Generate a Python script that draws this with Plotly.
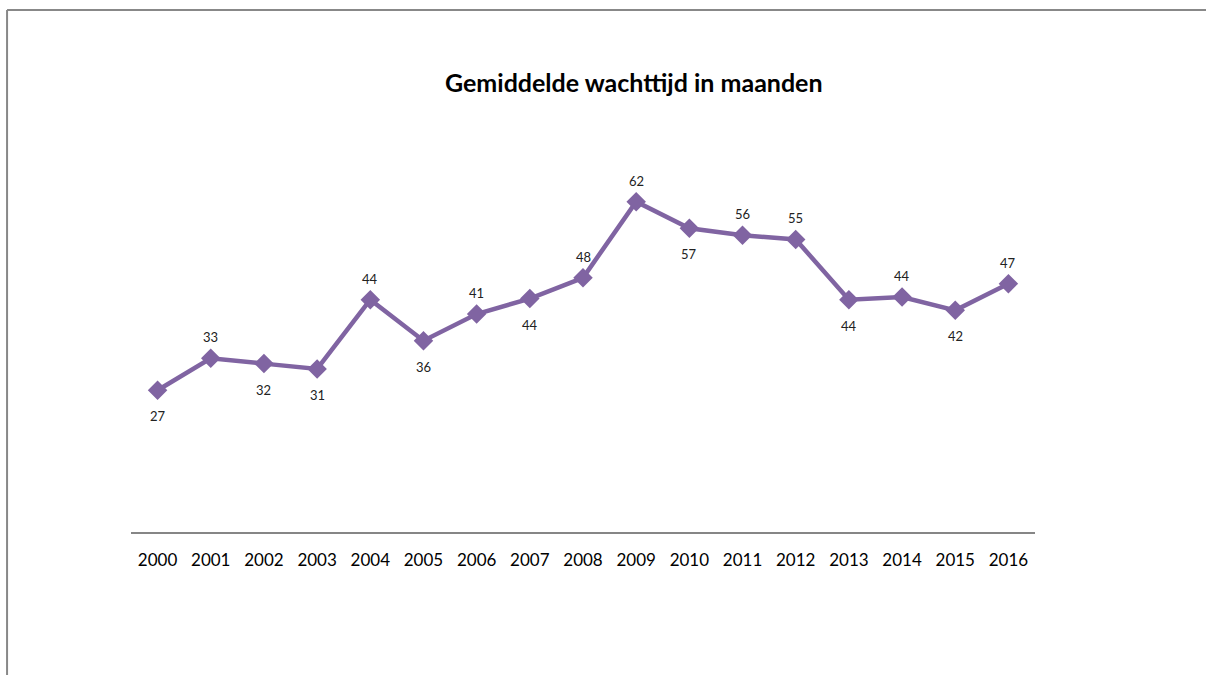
import plotly.graph_objects as go

years = [str(y) for y in range(2000, 2017)]
values = [26.6, 32.6, 31.6, 30.6, 43.6, 35.9, 40.9, 43.8, 47.7, 62.0, 57.0, 55.7, 54.9, 43.6, 44.1, 41.6, 46.6]
label_side = ["below", "above", "below", "below", "above", "below", "above", "below", "above",
              "above", "below", "above", "above", "below", "above", "below", "above"]
title_text = "Gemiddelde wachttijd in maanden"

purple = "#8064A2"
font_family = "Lato, 'Open Sans', sans-serif"

fig = go.Figure()
fig.add_trace(go.Scatter(
    x=years, y=values, mode="lines+markers",
    line=dict(color=purple, width=4.5),
    marker=dict(symbol="diamond", size=15, color=purple),
    hoverinfo="skip", showlegend=False,
))

annotations = []
for i, (v, side) in enumerate(zip(values, label_side)):
    annotations.append(dict(
        x=i, y=v, xref="x", yref="y", text=f"{v:.0f}", showarrow=False,
        yshift=21 if side == "above" else -26,
        font=dict(family=font_family, size=13, color="#222222"),
    ))

annotations.append(dict(
    text=f"<b>{title_text}</b>", xref="paper", yref="paper",
    x=(634 - 131) / 904.4, y=(532 - 82) / 373, xanchor="center", yanchor="middle",
    showarrow=False, font=dict(family=font_family, size=25, color="#000000"),
))

fig.update_layout(
    width=1206, height=675,
    margin=dict(l=131, r=171, t=159, b=143),
    paper_bgcolor="white", plot_bgcolor="white",
    annotations=annotations,
    xaxis=dict(
        type="category", range=[-0.5, 16.5], showline=True, linecolor="#868686", linewidth=1.5,
        showgrid=False, zeroline=False, ticks="", ticklabelstandoff=12,
        tickfont=dict(family=font_family, size=17, color="#000000"),
    ),
    yaxis=dict(range=[0, 70], visible=False, showgrid=False, zeroline=False),
    shapes=[
        dict(type="line", xref="paper", yref="paper",
             x0=(7 - 131) / 904.4, x1=(1210 - 131) / 904.4,
             y0=(532 - 10) / 373, y1=(532 - 10) / 373,
             line=dict(color="#888888", width=2)),
        dict(type="line", xref="paper", yref="paper",
             x0=(7 - 131) / 904.4, x1=(7 - 131) / 904.4,
             y0=(532 - 10) / 373, y1=(532 - 680) / 373,
             line=dict(color="#888888", width=2)),
    ],
)

fig.write_html("out.html")
